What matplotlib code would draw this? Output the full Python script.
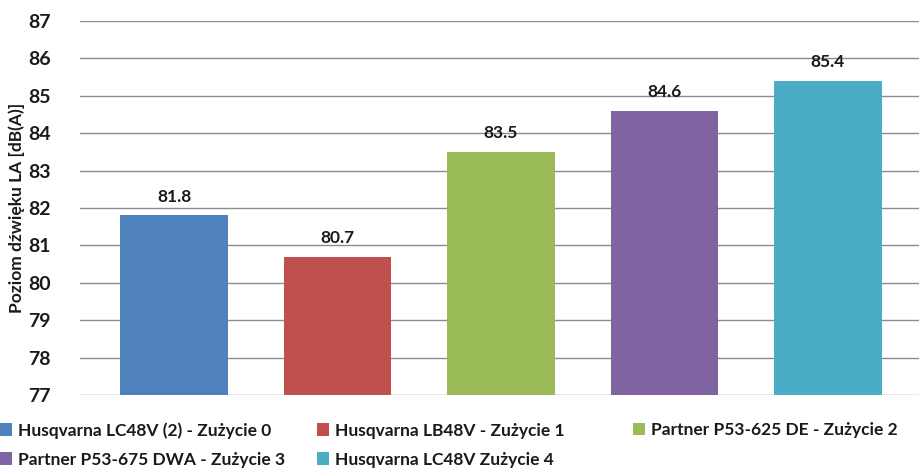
import matplotlib
matplotlib.use('Agg')
import matplotlib.pyplot as plt

plt.rcParams['font.family'] = ['Lato', 'DejaVu Sans']

labels = ['Husqvarna LC48V (2) - Zużycie 0', 'Husqvarna LB48V - Zużycie 1',
          'Partner P53-625 DE - Zużycie 2', 'Partner P53-675 DWA - Zużycie 3',
          'Husqvarna LC48V Zużycie 4']
values = [81.8, 80.7, 83.5, 84.6, 85.4]
colors = ['#4F81BD', '#C0504D', '#9BBB59', '#8064A2', '#4BACC6']
yticks = [77, 78, 79, 80, 81, 82, 83, 84, 85, 86, 87]

fig = plt.figure(figsize=(9.19, 4.71), dpi=100)
ax = fig.add_axes([80 / 919, 1 - 395 / 471, 1 - 80 / 919, (395 - 21) / 471])

bars = []
for i, (lab, v, c) in enumerate(zip(labels, values, colors)):
    b = ax.bar(i, v - 77, bottom=77, width=0.66, color=c, label=lab, zorder=3)
    bars.append(b)
    ax.text(i, v + 0.28, '%.1f' % v, ha='center', va='bottom', fontsize=12.5, fontweight='bold',
            color='#1a1a1a')

ax.set_ylim(77, 87)
ax.set_xlim(-0.575, 4.557)
ax.set_yticks(yticks)
ax.set_yticklabels([str(t) for t in yticks], fontsize=14, fontweight='bold', color='#1a1a1a')
ax.set_xticks([])
ax.tick_params(axis='y', length=0, pad=21)
ax.grid(axis='y', color='#8c8c8c', linewidth=1, zorder=0)
for s in ax.spines.values():
    s.set_visible(False)
ax.set_ylabel('Poziom dźwięku LA [dB(A)]', fontsize=12.5, fontweight='bold', color='#1a1a1a',
              labelpad=2)

# legend: three equal-width columns, row-major order
h = [b[0] for b in bars]
leg_kw = dict(frameon=False, handlelength=0.7, handleheight=0.7,
              handletextpad=0.35, borderpad=0, borderaxespad=0, labelspacing=0.75,
              prop={'weight': 'bold', 'size': 12.5})
leg1 = fig.legend([h[0], h[3], h[1], h[4]], [labels[0], labels[3], labels[1], labels[4]],
                  ncol=2, loc='upper left', bbox_to_anchor=(0.0, 1 - 422 / 471),
                  columnspacing=1.8, **leg_kw)
for t in leg1.get_texts():
    t.set_color('#1a1a1a')
leg2 = fig.legend([h[2]], [labels[2]], loc='upper left',
                  bbox_to_anchor=(633 / 919, 1 - 422 / 471), **leg_kw)
for t in leg2.get_texts():
    t.set_color('#1a1a1a')

fig.savefig('out.png', dpi=100)
